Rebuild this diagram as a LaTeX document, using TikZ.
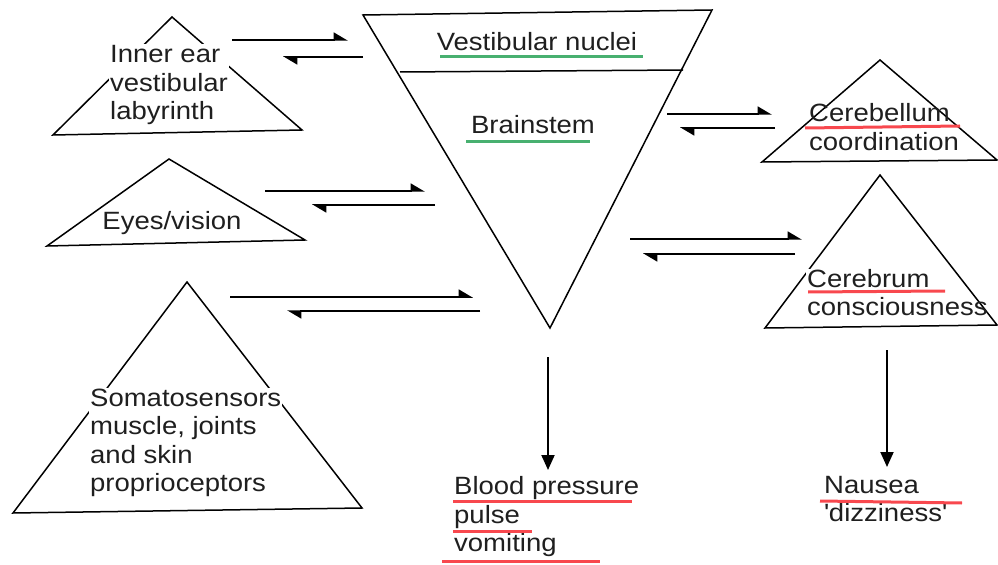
\documentclass[tikz,border=0pt]{standalone}
\usepackage{fontspec}
\setmainfont[FakeStretch=1.1]{Liberation Sans}
\usetikzlibrary{arrows.meta}
\definecolor{ulred}{RGB}{248,72,78}
\definecolor{ulgreen}{RGB}{72,176,112}
\tikzset{
  tri/.style={draw=black, line width=1.5bp, line join=miter},
  lbl/.style={font=\fontsize{25bp}{28.5bp}\selectfont, text=black!88, inner sep=1bp, align=left},
  lblw/.style={lbl, fill=white},
  harp/.style={line width=1.5bp, -{Triangle[harpoon, length=13bp, width=15bp]}},
  down/.style={line width=2bp, -{Triangle[length=15bp, width=13bp]}},
  ulr/.style={draw=ulred, line width=3bp},
  ulg/.style={draw=ulgreen, line width=3bp}
}
\begin{document}
\begin{tikzpicture}[x=1bp, y=-1bp]
\useasboundingbox (0,0) rectangle (998,565);
% triangles
\draw[tri] (172,17) -- (302,130) -- (53,135) -- cycle;
\draw[tri] (169,159) -- (305,240) -- (47,246) -- cycle;
\draw[tri] (187,282) -- (362,508) -- (13,513) -- cycle;
\draw[tri] (363,15) -- (712,10) -- (550,328) -- cycle;
\draw[tri] (400,72) -- (683,70);
\draw[tri] (880,60) -- (997,160) -- (762,162) -- cycle;
\draw[tri] (880,175) -- (997,325) -- (765,328) -- cycle;
% labels
\node[lblw, anchor=west] (ear) at (109,85) {Inner ear\\vestibular\\labyrinth};
\node[lbl] (eyes) at (172,223) {Eyes/vision};
\node[lblw, anchor=west] (soma) at (89,443) {Somatosensors\\muscle, joints\\and skin\\proprioceptors};
\node[lbl] (vest) at (537,42) {Vestibular nuclei};
\node[lbl] (brain) at (533,125) {Brainstem};
\node[lbl, anchor=west] (cbl) at (808,127) {Cerebellum\\coordination};
\node[lblw, anchor=west] (cbr) at (806,279) {Cerebrum};
\node[lbl, anchor=west] (cbr2) at (806,307) {consciousness};
\node[lbl, anchor=west] (bp) at (453,517) {Blood pressure\\pulse\\vomiting};
\node[lbl, anchor=west] (nau) at (823,499) {Nausea\\\textquotesingle dizziness\textquotesingle};
% underlines
\draw[ulg] (440,57) -- (643,57);
\draw[ulg] (466,142) -- (590,142);
\draw[ulr] (805,128) -- (960,126);
\draw[ulr] (808,292) -- (945,291);
\draw[ulr] (453,501) -- (632,501);
\draw[ulr] (453,531) -- (532,531);
\draw[ulr] (442,561) -- (600,561);
\draw[ulr] (820,501) -- (962,503);
% arrow end points
\coordinate (e1) at (232,40); \coordinate (e2) at (348,40);
\coordinate (e3) at (363,57); \coordinate (e4) at (283,57);
\coordinate (v1) at (265,191); \coordinate (v2) at (425,191);
\coordinate (v3) at (435,205); \coordinate (v4) at (312,205);
\coordinate (s1) at (230,297); \coordinate (s2) at (473,297);
\coordinate (s3) at (480,311); \coordinate (s4) at (287,311);
\coordinate (c1) at (667,114); \coordinate (c2) at (772,114);
\coordinate (c3) at (775,128); \coordinate (c4) at (680,128);
\coordinate (r1) at (630,239); \coordinate (r2) at (802,239);
\coordinate (r3) at (795,254); \coordinate (r4) at (643,254);
\coordinate (d1) at (548,357); \coordinate (d2) at (548,470);
\coordinate (d3) at (887,350); \coordinate (d4) at (887,467);
\draw[harp] (e1) -- (e2);
\draw[harp] (e3) -- (e4);
\draw[harp] (v1) -- (v2);
\draw[harp] (v3) -- (v4);
\draw[harp] (s1) -- (s2);
\draw[harp] (s3) -- (s4);
\draw[harp] (c1) -- (c2);
\draw[harp] (c3) -- (c4);
\draw[harp] (r1) -- (r2);
\draw[harp] (r3) -- (r4);
\draw[down] (d1) -- (d2);
\draw[down] (d3) -- (d4);
\end{tikzpicture}
\end{document}
